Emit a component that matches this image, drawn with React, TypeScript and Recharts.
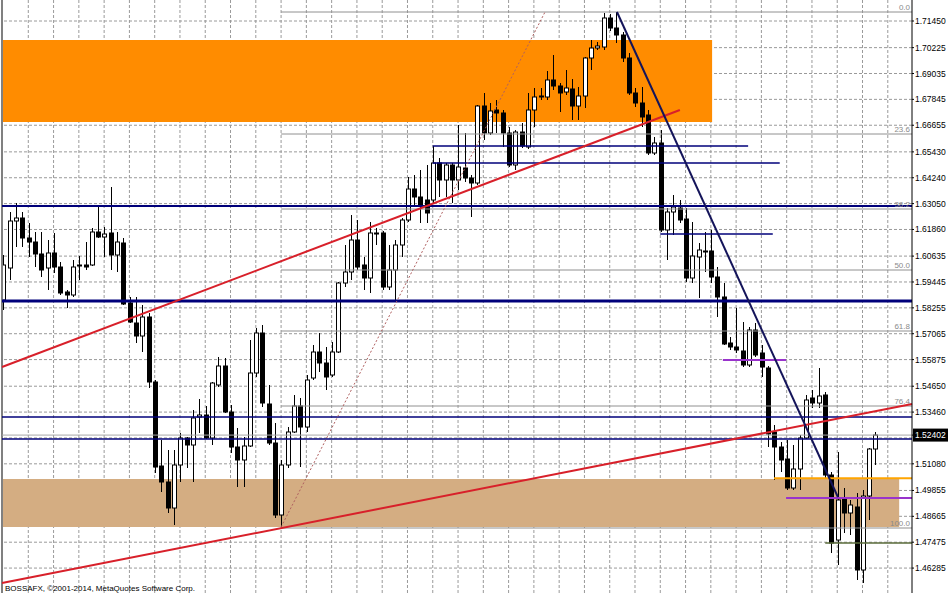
import React from 'react';
import { ComposedChart, Bar, XAxis, YAxis, ReferenceLine, ReferenceArea } from 'recharts';

// OHLC, bar 0 = leftmost candle
const opens = [
  1.58616, 1.60088, 1.6225, 1.62388, 1.61468, 1.61284, 1.60732, 1.60088, 1.60778, 1.60134,
  1.58984, 1.58846, 1.6018, 1.60226, 1.60226, 1.61744, 1.61514, 1.61698, 1.60686, 1.61238,
  1.58478, 1.57558, 1.5696, 1.57834, 1.54844, 1.5098, 1.50244, 1.49048, 1.51026, 1.52268,
  1.51946, 1.53234, 1.53326, 1.52268, 1.54706, 1.5558, 1.53464, 1.51854, 1.51256, 1.519,
  1.55258, 1.57098, 1.53832, 1.52038, 1.48726, 1.51026, 1.52544, 1.5374, 1.52774, 1.55028,
  1.56224, 1.55718, 1.55166, 1.56224, 1.59398, 1.59904, 1.61376, 1.60226, 1.59628, 1.61698,
  1.61698, 1.59214, 1.59996, 1.61146, 1.62296, 1.63722, 1.63354, 1.63216, 1.63216, 1.64918,
  1.64136, 1.64826, 1.64136, 1.64688, 1.64228, 1.63998, 1.6754, 1.66298, 1.67356, 1.67218,
  1.66298, 1.64826, 1.66344, 1.65654, 1.67356, 1.68, 1.67954, 1.68736, 1.6846, 1.68184,
  1.68322, 1.6754, 1.68, 1.69748, 1.70208, 1.70254, 1.71588, 1.71128, 1.70806, 1.69748,
  1.68138, 1.67678, 1.67126, 1.65378, 1.65838, 1.61836, 1.62664, 1.62848, 1.62342, 1.59628,
  1.60594, 1.6087, 1.6087, 1.59674, 1.58754, 1.56638, 1.56454, 1.5627, 1.55626, 1.57236,
  1.56178, 1.55488, 1.52544, 1.51854, 1.51302, 1.49968, 1.50842, 1.52268, 1.54108, 1.53878,
  1.54246, 1.50566, 1.47576, 1.49508, 1.48818, 1.49094, 1.46196, 1.496, 1.51762,
];
const highs = [
  1.60686, 1.62664, 1.63078, 1.62664, 1.62158, 1.61744, 1.61744, 1.61376, 1.61698, 1.60364,
  1.59076, 1.60456, 1.6064, 1.61284, 1.61928, 1.62986, 1.61974, 1.63814, 1.61744, 1.61468,
  1.58754, 1.58754, 1.58386, 1.58018, 1.54936, 1.52176, 1.51716, 1.51716, 1.52498, 1.52314,
  1.53556, 1.54062, 1.5374, 1.54844, 1.55994, 1.55948, 1.53786, 1.52728, 1.52314, 1.56776,
  1.57328, 1.57466, 1.54706, 1.52958, 1.51256, 1.52774, 1.54246, 1.54108, 1.55166, 1.56546,
  1.57098, 1.56454, 1.56684, 1.59444, 1.61146, 1.62526, 1.62296, 1.60594, 1.62204, 1.61928,
  1.6179, 1.61146, 1.61376, 1.62388, 1.64274, 1.64366, 1.64596, 1.64826, 1.657, 1.65148,
  1.64918, 1.64918, 1.66666, 1.66298, 1.64366, 1.67586, 1.68138, 1.67678, 1.67816, 1.67356,
  1.66574, 1.66436, 1.66758, 1.68138, 1.68368, 1.68368, 1.6915, 1.69886, 1.68598, 1.69196,
  1.68782, 1.68414, 1.69794, 1.70576, 1.70484, 1.71818, 1.71772, 1.71864, 1.70944, 1.69978,
  1.68368, 1.68414, 1.67356, 1.66114, 1.66436, 1.62848, 1.63446, 1.63216, 1.62848, 1.62204,
  1.61238, 1.61744, 1.61836, 1.60134, 1.59398, 1.56914, 1.58248, 1.57604, 1.57374, 1.57558,
  1.56546, 1.5558, 1.52866, 1.52084, 1.52176, 1.51946, 1.52406, 1.54246, 1.54476, 1.55488,
  1.54384, 1.50704, 1.51624, 1.49968, 1.49416, 1.49738, 1.49876, 1.51808, 1.52544,
];
const lows = [
  1.58156, 1.59536, 1.61054, 1.61054, 1.60594, 1.60134, 1.59674, 1.59076, 1.59858, 1.58846,
  1.58248, 1.58754, 1.59536, 1.59996, 1.6018, 1.61468, 1.60594, 1.59996, 1.59904, 1.58386,
  1.57558, 1.56638, 1.56224, 1.54568, 1.50658, 1.49784, 1.48818, 1.48266, 1.50244, 1.50888,
  1.50244, 1.52498, 1.52222, 1.51946, 1.54614, 1.53418, 1.51578, 1.50014, 1.50014, 1.51854,
  1.55074, 1.53694, 1.51946, 1.48588, 1.48174, 1.50888, 1.52498, 1.50934, 1.52544, 1.54936,
  1.55304, 1.54476, 1.55074, 1.56178, 1.59214, 1.59536, 1.59996, 1.59076, 1.58938, 1.61146,
  1.59076, 1.59076, 1.58616, 1.60594, 1.62204, 1.62894, 1.62158, 1.62158, 1.63078, 1.63354,
  1.63354, 1.63078, 1.63676, 1.64044, 1.62434, 1.63906, 1.65976, 1.66206, 1.66298, 1.65654,
  1.64734, 1.64596, 1.65608, 1.65562, 1.66574, 1.67816, 1.67816, 1.68276, 1.67264, 1.68046,
  1.66896, 1.66896, 1.67448, 1.69196, 1.70116, 1.70116, 1.7099, 1.70438, 1.69564, 1.68046,
  1.67494, 1.66574, 1.65286, 1.65286, 1.61744, 1.60456, 1.61606, 1.62158, 1.59444, 1.59398,
  1.58708, 1.59904, 1.59398, 1.57834, 1.56546, 1.56316, 1.56178, 1.55534, 1.55534, 1.55994,
  1.55074, 1.51854, 1.50336, 1.50704, 1.49876, 1.49876, 1.49876, 1.52222, 1.53648, 1.53648,
  1.50428, 1.46978, 1.46426, 1.47898, 1.47806, 1.45736, 1.45598, 1.48496, 1.51026,
];
const closes = [
  1.60226, 1.6225, 1.62388, 1.61468, 1.61284, 1.60732, 1.59996, 1.60778, 1.60134, 1.58938,
  1.58846, 1.60134, 1.60226, 1.60134, 1.61744, 1.61514, 1.61652, 1.60686, 1.61284, 1.58432,
  1.57604, 1.5696, 1.57834, 1.54844, 1.50934, 1.50244, 1.49048, 1.51026, 1.52268, 1.51946,
  1.53188, 1.53326, 1.52268, 1.54798, 1.5558, 1.53464, 1.51854, 1.51256, 1.519, 1.55258,
  1.57098, 1.53878, 1.52038, 1.48726, 1.51026, 1.52544, 1.5374, 1.52774, 1.54936, 1.56224,
  1.55718, 1.55074, 1.56224, 1.59398, 1.59904, 1.61376, 1.60134, 1.59628, 1.61698, 1.61652,
  1.59214, 1.59996, 1.61146, 1.62296, 1.63722, 1.63354, 1.62986, 1.62618, 1.64918, 1.64136,
  1.64826, 1.64136, 1.64734, 1.64228, 1.63998, 1.6754, 1.66298, 1.6731, 1.67218, 1.66298,
  1.64826, 1.66344, 1.657, 1.67356, 1.67954, 1.67954, 1.68736, 1.6846, 1.68138, 1.68368,
  1.6754, 1.68, 1.69748, 1.70208, 1.703, 1.71588, 1.71128, 1.70806, 1.69748, 1.68138,
  1.67678, 1.67034, 1.65378, 1.65838, 1.61836, 1.62664, 1.62894, 1.62296, 1.59628, 1.6064,
  1.60916, 1.60824, 1.59674, 1.58754, 1.56592, 1.56454, 1.56316, 1.55626, 1.57236, 1.56086,
  1.55534, 1.52452, 1.51854, 1.51256, 1.49968, 1.50842, 1.52268, 1.54016, 1.53878, 1.542,
  1.50566, 1.47438, 1.49416, 1.48818, 1.49186, 1.46196, 1.496, 1.51762, 1.52402,
];

const priceTicks = [
  1.7145, 1.70225, 1.69035, 1.67845, 1.66655, 1.6543, 1.6424, 1.6305, 1.6186, 1.60635, 1.59445,
  1.58255, 1.57065, 1.55875, 1.5465, 1.5346, 1.52402, 1.5108, 1.49855, 1.48665, 1.47475, 1.46285,
];
const lastPrice = 1.52402;
const hiddenGridPrice = 1.5227;

// fibonacci retracement drawn from the swing low to the swing high
const fibLabels = ['0.0', '23.6', '38.2', '50.0', '61.8', '76.4', '100.0'];
const fibPrices = [1.71864, 1.66252, 1.62802, 1.59996, 1.5719, 1.5374, 1.48128];

// full-width support/resistance levels
const navyLevels = [1.6294, 1.5857, 1.53234, 1.52222];
const navyWidths = [2, 3, 1.5, 1.5];

const X_MIN = -0.16;
const X_MAX = 143.83;
const Y_MIN = 1.45138;
const Y_MAX = 1.72416;

const candles = opens.map((open, i) => ({
  i,
  open,
  high: highs[i],
  low: lows[i],
  close: closes[i],
  range: [lows[i], highs[i]],
}));

const gridX = Array.from({ length: 35 }, (_, k) => 4 * (k + 1));
const gridY = priceTicks.filter((p) => p !== lastPrice).concat([hiddenGridPrice]);

const FONT = "'Liberation Sans', Arial, sans-serif";

function Candle(props: any) {
  const { x, y, width, height, payload } = props;
  if (!payload) return null;
  const { open, close, high, low } = payload;
  const top = Math.min(y, y + height);
  const h = Math.abs(height);
  const k = h / (high - low || 1e-9);
  const yO = top + (high - open) * k;
  const yC = top + (high - close) * k;
  const cx = Math.round(x + width / 2) + 0.5;
  const bodyTop = Math.min(yO, yC);
  const bodyH = Math.max(Math.abs(yC - yO), 1);
  const up = close >= open;
  return (
    <g>
      <line x1={cx} x2={cx} y1={top} y2={top + h} stroke="#000" strokeWidth={1} />
      <rect x={cx - 2} y={bodyTop} width={4} height={bodyH} fill={up ? '#fff' : '#000'} stroke="#000" strokeWidth={1} />
    </g>
  );
}

function PriceTick(props: any) {
  const { x, y, payload } = props;
  const v = payload.value;
  const isLast = Math.abs(v - lastPrice) < 1e-7;
  return (
    <g>
      {isLast && <rect x={x - 2} y={y - 6.5} width={36} height={13} fill="#000" />}
      <text x={x} y={y} dy={3} fontSize={8.5} fontFamily={FONT} fill={isLast ? '#fff' : '#000'}>
        {v.toFixed(5)}
      </text>
    </g>
  );
}

export default function App() {
  return (
    <div style={{ position: 'absolute', left: 0, top: 0, width: 948, height: 593, background: '#fff', overflow: 'hidden' }}>
      <ComposedChart width={948} height={593} data={candles} margin={{ top: 0, right: 0, bottom: 0, left: 2 }}>
        <XAxis type="number" dataKey="i" domain={[X_MIN, X_MAX]} hide allowDataOverflow />
        <YAxis
          orientation="right"
          domain={[Y_MIN, Y_MAX]}
          ticks={priceTicks}
          interval={0}
          width={36}
          tickSize={2}
          tickMargin={1}
          tick={<PriceTick />}
          axisLine={{ stroke: '#000' }}
          tickLine={{ stroke: '#000' }}
          allowDataOverflow
        />

        {gridX.map((gx) => (
          <ReferenceLine key={'gx' + gx} x={gx} stroke="#9a9a9a" strokeDasharray="3 2" zIndex={-50} />
        ))}
        {gridY.map((gy) => (
          <ReferenceLine key={'gy' + gy} y={gy} stroke="#9a9a9a" strokeDasharray="3 2" zIndex={-50} />
        ))}

        <ReferenceArea x1={X_MIN} x2={112.2} y1={1.66804} y2={1.70576} fill="#FF8C00" fillOpacity={1} stroke="none" zIndex={-40} />
        <ReferenceArea x1={X_MIN} x2={141.8} y1={1.48174} y2={1.50382} fill="#D4AD82" fillOpacity={1} stroke="none" zIndex={-40} />

        <ReferenceLine x={X_MIN} stroke="#808080" strokeWidth={2} />

        <Bar dataKey="range" barSize={5} shape={<Candle />} isAnimationActive={false} />

        {fibPrices.map((p, k) => (
          <ReferenceLine
            key={'fib' + k}
            segment={[{ x: 44.0, y: p }, { x: X_MAX, y: p }]}
            stroke="#909090"
            strokeWidth={1}
            label={{ value: fibLabels[k], position: 'insideBottomRight', offset: 2, fill: '#8a8a8a', fontSize: 8, fontFamily: FONT }}
          />
        ))}
        <ReferenceLine y={lastPrice} stroke="#a8a8a8" strokeWidth={1} />

        {navyLevels.map((p, k) => (
          <ReferenceLine key={'nv' + k} y={p} stroke="#00007A" strokeWidth={navyWidths[k]} />
        ))}
        <ReferenceLine segment={[{ x: 68.0, y: 1.657 }, { x: 117.9, y: 1.657 }]} stroke="#00007A" strokeWidth={1.5} />
        <ReferenceLine segment={[{ x: 68.0, y: 1.64918 }, { x: 122.9, y: 1.64918 }]} stroke="#00007A" strokeWidth={1.5} />
        <ReferenceLine segment={[{ x: 104.0, y: 1.61652 }, { x: 121.8, y: 1.61652 }]} stroke="#00007A" strokeWidth={1.5} />

        <ReferenceLine segment={[{ x: 113.9, y: 1.55856 }, { x: 123.9, y: 1.55856 }]} stroke="#9933CC" strokeWidth={2} />
        <ReferenceLine segment={[{ x: 123.9, y: 1.49508 }, { x: X_MAX, y: 1.49508 }]} stroke="#9933CC" strokeWidth={2} />
        <ReferenceLine segment={[{ x: 122.0, y: 1.50419 }, { x: X_MAX, y: 1.50419 }]} stroke="#FFA500" strokeWidth={2} />
        <ReferenceLine segment={[{ x: 130.1, y: 1.47438 }, { x: X_MAX, y: 1.47438 }]} stroke="#5A6B3A" strokeWidth={1.5} />

        <ReferenceLine segment={[{ x: 44.0, y: 1.48174 }, { x: 85.76, y: 1.71864 }]} stroke="#B06060" strokeWidth={1} strokeDasharray="2 2" />
        <ReferenceLine segment={[{ x: X_MIN, y: 1.55534 }, { x: 107.1, y: 1.67356 }]} stroke="#D8202A" strokeWidth={2} />
        <ReferenceLine segment={[{ x: X_MIN, y: 1.45598 }, { x: X_MAX, y: 1.53832 }]} stroke="#D8202A" strokeWidth={2} />
        <ReferenceLine segment={[{ x: 97.15, y: 1.71864 }, { x: 132.1, y: 1.49554 }]} stroke="#14145A" strokeWidth={2} />
      </ComposedChart>
      <svg width={948} height={593} style={{ position: 'absolute', left: 0, top: 0, pointerEvents: 'none' }}>
        <text x={5} y={591} fontSize={8} fontFamily={FONT} fill="#000">
          BOSSAFX, ©2001-2014, MetaQuotes Software Corp.
        </text>
      </svg>
    </div>
  );
}
